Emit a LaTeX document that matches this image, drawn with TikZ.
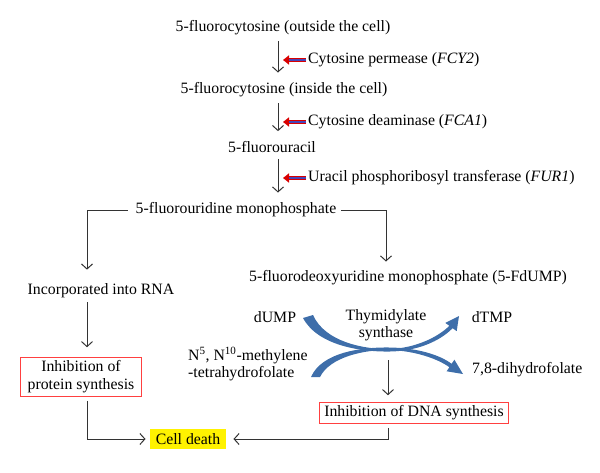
\documentclass[tikz,border=0pt]{standalone}
\usepackage{fontspec}
\setmainfont{Liberation Serif}
\usetikzlibrary{arrows.meta}

\begin{document}
\begin{tikzpicture}
  [x=1pt,y=-1pt,font=\fontsize{15.8}{18}\selectfont,
   every node/.style={inner sep=2pt},
   flow/.style={draw=black!80,line width=1pt,-{Straight Barb[length=5pt,width=11pt]}},
   redbox/.style={draw=red!75,line width=1pt,inner xsep=7pt,inner ysep=3pt,align=center,fill=white},
   enz/.style={red!85!black,line width=3.2pt,-{Triangle[length=6pt,width=9pt]}},
   enzin/.style={blue!45!gray,line width=1.2pt},
   tsarc/.style={fill={rgb,255:red,62;green,110;blue,170}}]
  \useasboundingbox (0,0) rectangle (600,472);

  % columns of the arrows
  \coordinate (ax) at (278,0);
  \coordinate (lx) at (87,0);
  \coordinate (rx) at (386,0);

  \node (n1) at (283,28) {5-fluorocytosine (outside the cell)};
  \node (n2) at (284,90) {5-fluorocytosine (inside the cell)};
  \node (n3) at (272,147) {5-fluorouracil};
  \node (n4) at (236,210) {5-fluorouridine monophosphate};
  \node (n5) at (408,278) {5-fluorodeoxyuridine monophosphate (5-FdUMP)};
  \node (n6) at (101,291) {Incorporated into RNA};
  \node (n7) [redbox] at (81,377) {Inhibition of\\protein synthesis};
  \node (n8) [redbox,inner xsep=5pt] at (414,413) {Inhibition of DNA synthesis};
  \node (n9) [fill=yellow,inner xsep=6pt,inner ysep=4pt] at (188,439) {Cell death};

  \node (e1) [anchor=west] at (306,60) {Cytosine permease (\textit{FCY2})};
  \node (e2) [anchor=west] at (306,122) {Cytosine deaminase (\textit{FCA1})};
  \node (e3) [anchor=west] at (306,178) {Uracil phosphoribosyl transferase (\textit{FUR1})};

  \node (du) at (275,317) {dUMP};
  \node (ts) [align=center,font=\fontsize{15.8}{17}\selectfont] at (386,325) {Thymidylate\\synthase};
  \node (dt) at (492,317) {dTMP};
  \node (mt) [anchor=west,align=left,font=\fontsize{15.8}{17}\selectfont] at (186,364)
    {N\textsuperscript{5}, N\textsuperscript{10}-methylene\\-tetrahydrofolate};
  \node (dh) [anchor=west] at (470,370) {7,8-dihydrofolate};
  \coordinate (cr) at (388,360);

  % main chain
  \draw[flow,shorten <=4pt,shorten >=8pt] (n1.south -| ax) -- (n2.north -| ax);
  \draw[flow,shorten <=4pt,shorten >=8pt] (n2.south -| ax) -- (n3.north -| ax);
  \draw[flow,shorten <=4pt,shorten >=8pt] (n3.south -| ax) -- (n4.north -| ax);
  \foreach \e in {e1,e2,e3} {
    \draw[enz] (\e.west) -- ([xshift=5pt]\e.west -| ax);
    \draw[enzin] (\e.west) -- ([xshift=11pt]\e.west -| ax);
  }

  % branches
  \draw[flow,shorten <=6pt,shorten >=12pt] (n4.west) -| (n6.north -| lx);
  \draw[flow,shorten <=3pt,shorten >=7pt] (n4.east) -| (n5.north -| rx);
  \draw[flow,shorten <=2pt,shorten >=10pt] (n6.south -| lx) -- (n7.north -| lx);
  \draw[flow,shorten <=4pt,shorten >=4pt] (n7.south -| lx) |- (n9.west);
  \draw[flow,shorten >=7pt] (cr) -- (n8.north -| cr);
  \draw[flow,shorten <=4pt,shorten >=7pt] (n8.south -| cr) |- (n9.east);

  % thymidylate synthase arcs
  \path[tsarc] (303,318) .. controls (318,346) and (362,352) .. (390,351.5)
    .. controls (418,351) and (440,341) .. (452.6,328.2) -- (456.7,331.1) -- (459,316)
    -- (445.3,322.9) -- (449.4,325.8) .. controls (438,337) and (416,348) .. (390,349)
    .. controls (364,349.5) and (325,342) .. (313,315) -- cycle;
  \path[tsarc] (311,377) .. controls (322,352) and (362,347) .. (390,347.5)
    .. controls (418,348) and (440,355) .. (451.6,363.8) -- (454.4,359.7) -- (463,374)
    -- (446.6,371.3) -- (449.4,367.2) .. controls (438,359) and (416,351) .. (390,350)
    .. controls (364,349.5) and (330,357) .. (320,377) -- cycle;
\end{tikzpicture}
\end{document}
